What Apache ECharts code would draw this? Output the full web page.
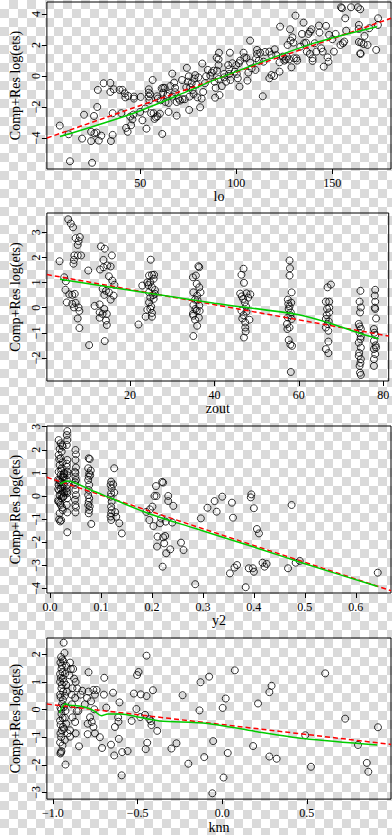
<!DOCTYPE html>
<html><head><meta charset="utf-8">
<script src="https://cdn.jsdelivr.net/npm/echarts@6/dist/echarts.min.js"></script>
<style>
html,body{margin:0;padding:0;width:392px;height:835px;overflow:hidden;
background:repeating-conic-gradient(#dadada 0 25%, #ffffff 0 50%) 0 0/18px 18px;}
#c{width:392px;height:835px;}
</style></head><body><div id="c"></div>
<script>
// ---------- data ----------
const yTitle = 'Comp+Res log(ets)';
const xTitles = ['lo', 'zout', 'y2', 'knn'];

const loTicks = [50, 100, 150];
const loYTicks = [-4, -2, 0, 2, 4];
const loPoints = [[8.2,-3.2],[12.8,-3.76],[13.5,-5.5],[25,-5.6],[19.8,-4.04],[20.8,-2.5],[24.5,-4.2],[24.5,-3.6],[26.2,-3.7],[27.3,-3.65],[28.5,-4.17],[29.8,-3.85],[26,-2.58],[27.7,-2.0],[28,-0.9],[31,-0.47],[34.5,-0.45],[34.5,-1.03],[34.8,-4.2],[35.7,-3.8],[35.7,-2.4],[36.3,-0.86],[39.3,-0.9],[40.8,-0.9],[40.2,-2.4],[42,-1.12],[42.3,-1.38],[42.7,-3.35],[43.5,-3.6],[43.8,-1.29],[44.8,-2.62],[45.3,-3.18],[46.5,-2.49],[46.8,-1.46],[46.8,-1.33],[46,-2.8],[50.3,-1.35],[51.2,-2.86],[50,-2.32],[52.7,-2.1],[53.3,-3.4],[54.5,-0.86],[54.5,-1.08],[54.5,-1.33],[54.8,-1.57],[55.2,-1.18],[55.7,-2.4],[56.5,-0.26],[57,-2.4],[57.5,-2.77],[58.2,-2.67],[59,-2.6],[60.3,-2.43],[58.8,-1.31],[59.2,-1.46],[60.7,-1.57],[61.5,-3.74],[61.2,-0.8],[62,-0.77],[62,-1.08],[62.8,-0.77],[63.2,-1.68],[64,-1.29],[64.3,-1.16],[64.8,-1.74],[64.8,-2.32],[65.7,-0.65],[66.8,-1.33],[66.7,0.15],[67.7,-0.43],[68.2,-0.77],[68.2,-1.05],[69,-2.56],[69,-1.68],[70,-1.46],[70.7,-1.59],[71.8,-0.26],[72,-1.5],[73.2,-1.5],[74,-0.73],[74.3,0.52],[75.3,-0.02],[74.8,-0.37],[75.7,-1.33],[75.5,-2.19],[76,-0.73],[76.8,-0.47],[77.3,-0.9],[77.8,-1.16],[78.2,-0.17],[78.7,0.06],[79.3,-0.56],[79.8,-1.38],[80.3,-0.09],[81.2,-2.02],[82,-1.46],[82.3,0.8],[82.8,-1.03],[83.7,-0.47],[84.3,-0.02],[85.2,0.39],[86.5,0.02],[87.3,0.22],[88.2,0.34],[88.7,-0.37],[89.3,-0.77],[89,-1.4],[89.8,1.18],[91,1.5],
[96.7,1.5],[90.8,1.07],[90.8,0.7],[90,0.34],[90.8,-0.2],[91.3,-1.23],[92.5,-0.65],[93.7,0.13],[93.7,-0.09],[94.7,-0.37],[95.8,0.7],[96.3,0.43],[96.3,0.13],[97,-0.26],[98,0.82],[99.2,0.28],[100,0.7],[100.3,0.13],[100.8,-0.15],[101.3,0.82],[101.7,-0.69],[102,0.99],[103.8,1.5],[104.2,1.2],[105.3,1.16],[105.8,-0.3],[106.3,0.22],[107.2,2.28],[107.2,0.86],[108,0.49],[110,0.39],[110.3,1.14],[110.8,1.42],[110.8,1.68],[111.7,0.99],[112.5,1.5],[113.8,-1.31],[114.2,0.92],[115,1.55],[117.2,1.57],[117.2,-0.15],[118.3,1.35],[118.3,0.06],[120,1.72],[119.7,0],[120.8,1.35],[122.5,0.88],[122.5,0.28],[122.8,3.18],[124.2,1.25],[125,0.99],[125.8,1.07],[126.3,1.25],[126.7,2.0],[127.5,1.07],[128,3.01],[128.3,2.28],[128.7,0.56],[129.2,2.49],[129.7,2.15],[130,1.14],[130.8,3.89],[131.3,1.14],[131.7,0.99],[133.3,1.89],[134.2,2.71],[135,3.44],[135.3,2.11],[136.3,2.15],[136.7,1.57],[137.5,2.71],[138.3,2.86],[139.2,3.01],[138.3,1.42],[139.7,0.97],[139.7,1.14],[140.8,2.11],[141.7,1.57],[143,3.25],[143.3,2.8],[144.2,1.78],[145,1.57],[145.5,0.6],[146.7,3.23],[147.5,1.2],[148,0.92],[148.3,2.65],[150,2.37],[150.8,1.57],[151.7,2.71],[154.2,2.0],[154.5,4.43],[155,4.37],[155.5,2.11],[156.2,2.22],[156.7,3.72],[157.2,2.92],[159.7,4.43],[163.3,4.43],[164.5,4.3],[163.8,3.29],[163.7,3.03],[163.8,2.19],[165,2.15],[164.5,1.46],[164.7,1.42],[166.7,2.58],[166.3,2.06],[168.3,2.0],[169.2,3.08],[172.8,1.68],[173.8,3.72],[173.7,3.29]];
const loFit = [[1.5,-4.0],[180.5,3.72]];
const loSmooth = [[8.3,-3.91],[46.5,-2.4],[76.5,-0.9],[90,-0.19],[140,2.1],[173.3,3.18]];

const zoutTicks = [20, 40, 60, 80];
const zoutYTicks = [-2, -1, 0, 1, 2, 3];
const zoutPoints = [[3.3,1.85],[5.35,3.52],[5.96,3.35],[6.5,3.2],[7.1,2.77],[8.1,2.81],[7.8,2.65],[7.6,2.5],[6.8,2.08],[7.6,2.08],[8.4,2.08],[6.7,1.9],[6.6,1.75],[4.4,1.21],[4.8,1.05],[4.7,0.71],[5.6,0.53],[5.0,0.21],[6.3,0.51],[6.9,0.55],[6.3,0.15],[6.7,0.01],[7.1,0.19],[7.8,0.01],[8.0,-0.13],[7.6,-0.43],[8.0,-0.81],[10.1,1.48],[10.3,-1.49],[13.1,2.44],[14.0,2.35],[15.7,2.08],[13.7,1.9],[14.6,1.68],[15.4,1.64],[12.9,1.52],[13.7,1.61],[15.0,1.25],[15.8,1.08],[16.3,0.91],[13.5,0.75],[14.3,0.67],[13.9,0.51],[15.0,0.61],[16.1,0.48],[15.4,0.32],[11.6,0.07],[12.8,0.13],[13.9,-0.05],[12.8,-0.19],[12.8,-0.4],[13.5,-0.25],[14.5,-0.69],[14.3,-0.51],[14.5,-0.25],[14.0,-1.33],
[22.9,0.88],[22.0,-0.67],[24.9,1.91],[24.5,1.28],[25.2,1.31],[25.7,1.31],[24.1,1.01],[24.8,1.01],[25.6,1.15],[25.2,0.81],[24.5,0.61],[25.9,0.55],[24.8,0.41],[25.6,0.35],[24.5,0.21],[24.8,-0.05],[25.2,-0.21],[24.1,-0.08],[23.7,-0.36],[25.2,-0.36],[25.9,0.7],[25.5,0.5],[24.3,0.9],[25.0,0.05],
[34.9,1.21],[36.2,1.65],[36.4,1.61],[35.6,1.28],[35.0,0.61],[35.8,0.95],[36.4,0.81],[36.7,0.61],[35.9,0.48],[35.4,0.32],[35.0,0.11],[36.4,0.08],[35.8,-0.12],[36.5,-0.13],[35.0,-0.32],[35.4,-0.48],[35.9,-0.72],[35.0,-1.13],[34.9,-0.25],[36.0,0.3],[35.5,-0.05],[36.3,-0.4],
[46.9,1.55],[46.4,1.31],[47.0,0.99],[46.1,0.56],[47.6,0.57],[48.5,0.53],[46.8,0.35],[47.2,0.21],[46.4,-0.12],[47.6,-0.16],[46.6,-0.43],[48.3,-0.48],[47.3,-0.59],[47.3,-0.79],[47.0,-1.19],[46.5,0.45],[47.5,0.05],[46.9,-0.3],[47.4,-0.95],[48.0,0.4],
[57.8,1.88],[57.9,1.57],[57.8,1.28],[58.3,0.61],[57.4,0.32],[57.8,0.05],[57.6,-0.05],[58.1,-0.19],[57.4,-0.39],[58.3,-0.45],[57.2,-0.65],[57.8,-0.79],[57.6,-1.29],[58.4,-1.52],[58.0,-1.47],[58.1,-2.56],[57.5,0.15],[58.0,-0.3],[57.3,-0.85],[58.2,0.2],
[66.8,0.81],[67.6,0.92],[66.4,0.24],[67.2,0.24],[66.7,-0.05],[67.2,-0.19],[66.4,-0.45],[66.8,-0.65],[66.4,-0.79],[67.0,-0.92],[67.0,-1.35],[66.4,-1.65],[67.0,-1.81],[67.2,0.0],[66.6,-0.3],[67.1,-0.55],
[74.6,0.67],[74.4,0.24],[74.7,0.01],[74.5,-0.19],[74.2,-0.65],[74.7,-0.85],[74.4,-1.01],[74.7,-1.15],[74.2,-1.39],[74.7,-1.59],[74.2,-1.92],[74.7,-2.05],[74.4,-2.32],[74.5,-2.59],[74.7,-2.68],[74.4,-0.75],[74.6,-1.25],[74.3,-1.8],[74.6,-2.2],
[78.1,0.71],[78.0,0.48],[78.1,0.24],[78.1,-0.05],[78.3,-0.43],[77.8,-0.85],[78.1,-1.09],[77.8,-1.32],[78.3,-1.59],[77.8,-1.65],[78.1,-1.85],[77.8,-2.05],[77.8,-2.32],[78.0,0.0],[78.2,-1.5],[77.9,-1.0]];
const zoutFit = [[0.3,1.32],[81.3,-1.13]];
const zoutSmooth = [[3.4,1.13],[40,0.18],[60,-0.28],[67,-0.6],[75,-1.05],[78.9,-1.24]];

const y2Ticks = [0.0, 0.1, 0.2, 0.3, 0.4, 0.5, 0.6];
const y2YTicks = [-4, -3, -2, -1, 0, 1, 2, 3];
const y2Points = [[0.017,2.42],[0.021,2.28],[0.025,2.14],[0.019,2.04],[0.023,1.92],[0.017,1.78],[0.021,1.63],[0.025,1.46],[0.019,1.34],[0.023,1.2],[0.017,1.05],[0.021,0.91],[0.025,0.79],[0.019,0.69],[0.023,0.59],[0.017,0.48],[0.021,0.33],[0.025,0.19],[0.019,0.04],[0.023,-0.1],[0.017,-0.25],[0.021,-0.39],[0.025,-0.61],[0.019,-0.75],[0.018,-1.01],[0.02,-1.1],[0.024,2.2],[0.018,1.6],[0.022,1.1],[0.026,0.85],[0.02,0.6],[0.024,0.4],[0.018,0.25],[0.022,0.1],[0.026,-0.05],[0.02,-0.3],[0.024,-0.5],[0.027,0.95],[0.016,0.7],[0.027,0.5],[0.016,0.3],[0.027,0.0],[0.016,-0.2],[0.022,-1.05],[0.028,1.0],[0.028,0.8],[0.028,0.15],
[0.034,2.81],[0.033,2.64],[0.034,2.42],[0.033,2.21],[0.034,1.56],[0.033,1.27],[0.034,1.05],[0.033,0.69],[0.034,0.48],[0.033,0.33],[0.034,0.12],[0.033,-0.39],[0.034,-0.71],[0.034,-1.57],[0.034,0.9],[0.033,0.2],[0.034,-0.1],[0.033,1.4],
[0.05,1.99],[0.051,1.8],[0.05,1.56],[0.051,1.23],[0.049,1.05],[0.05,0.84],[0.051,0.69],[0.049,0.48],[0.05,0.26],[0.051,0.04],[0.049,-0.17],[0.05,-0.39],[0.05,-0.71],[0.05,1.0],[0.049,0.6],[0.051,-0.5],
[0.076,1.63],[0.075,1.2],[0.077,0.98],[0.076,0.84],[0.075,0.69],[0.077,0.48],[0.076,0.26],[0.075,0.04],[0.077,-0.1],[0.076,-0.25],[0.075,-0.39],[0.077,-0.61],[0.076,-0.75],[0.078,1.6],[0.079,0.9],[0.078,-0.45],[0.081,-1.21],[0.08,1.1],
[0.126,1.2],[0.12,0.62],[0.119,0.48],[0.121,0.33],[0.12,0.12],[0.119,-0.03],[0.121,-0.25],[0.12,-0.46],[0.121,-0.61],[0.12,-0.75],[0.119,-0.89],[0.12,-1.04],[0.126,0.15],[0.124,0.5],[0.128,-0.7],[0.13,-0.9],[0.136,-1.18],[0.141,-1.62],
[0.189,-0.69],[0.195,-1.04],[0.196,-0.58],[0.201,-0.46],[0.203,-1.3],[0.205,0],[0.208,0.43],[0.209,0],[0.211,-1.76],[0.21,-2.19],[0.216,-1.18],[0.218,-0.97],[0.22,0.61],[0.222,0.58],[0.221,-3.06],[0.222,-1.79],[0.224,-2.05],[0.226,-1.73],[0.227,-1.11],[0.228,-2.48],[0.232,-0.22],[0.232,0],[0.236,-2.31],[0.24,-1.15],[0.242,-0.43],[0.257,-2.02],[0.262,-2.34],[0.285,-3.82],[0.296,-0.97],[0.309,-0.51],[0.323,-0.22],[0.327,-0.68],[0.338,-0.03],[0.353,-3.35],[0.357,-0.29],[0.359,-0.94],[0.362,-3.1],[0.367,-2.99],[0.384,-3.95],[0.39,-3.13],[0.394,-0.06],[0.395,0.07],[0.398,-3.13],[0.4,-3.28],[0.4,-0.53],[0.406,-1.43],[0.41,-1.62],[0.417,-2.89],[0.421,-3.06],[0.425,-2.94],[0.467,-3.13],[0.474,-0.39],[0.482,-2.89],[0.49,-2.81],[0.643,-3.32]];
const y2Fit = [[-0.006,0.81],[0.669,-4.1]];
const y2Smooth = [[0.0197,0.52],[0.034,0.65],[0.08,0.26],[0.12,-0.1],[0.196,-0.78],[0.284,-1.4],[0.397,-2.19],[0.497,-2.91],[0.643,-3.92]];

const knnTicks = [-1.0, -0.5, 0.0, 0.5];
const knnYTicks = [-3, -2, -1, 0, 1, 2];
const knnPoints = [[-0.937,2.42],[-0.945,1.82],[-0.956,1.7],[-0.95,1.47],[-0.958,1.29],[-0.941,1.12],[-0.958,1.0],[-0.95,0.77],[-0.958,0.54],[-0.941,0.36],[-0.956,0.07],[-0.95,-0.16],[-0.958,-0.4],[-0.941,-0.63],[-0.956,-0.86],[-0.958,-1.19],[-0.95,-1.5],[-0.956,-1.59],[-0.926,-1.99],[-0.932,2.05],[-0.922,1.59],[-0.922,0.89],[-0.918,0.65],[-0.926,-0.05],[-0.922,-0.51],[-0.913,-0.86],
[-0.952,1.9],[-0.947,1.6],[-0.944,1.35],[-0.953,1.15],[-0.947,0.9],[-0.94,0.65],[-0.955,0.45],[-0.946,0.2],[-0.951,0.0],[-0.943,-0.3],[-0.955,-0.55],[-0.948,-0.75],[-0.952,-1.0],[-0.944,-1.3],[-0.953,-1.55],[-0.935,1.0],[-0.93,0.5],[-0.935,0.1],[-0.93,-0.3],[-0.935,-0.7],[-0.93,-1.1],[-0.938,1.75],[-0.928,1.3],
[-0.899,1.7],[-0.894,1.47],[-0.881,1.47],[-0.903,1.24],[-0.875,1.12],[-0.866,1.0],[-0.885,0.77],[-0.857,0.77],[-0.89,0.54],[-0.869,0.42],[-0.888,0.19],[-0.86,-0.05],[-0.885,-0.28],[-0.869,-0.45],[-0.899,-0.75],[-0.866,-0.86],[-0.899,-0.98],[-0.846,-1.33],[-0.85,-0.05],[-0.837,0.54],[-0.827,0.68],[-0.812,0.19],[-0.799,0.42],[-0.79,1.35],[-0.79,0.65],[-0.775,0.3],[-0.761,0.71],[-0.752,0.54],[-0.742,0.71],[-0.756,0.01],[-0.795,-0.51],[-0.781,-0.28],[-0.771,-0.45],[-0.761,-0.63],[-0.752,-0.86],[-0.795,-0.89],[-0.723,-1.0],[-0.71,-1.39],[-0.699,0.54],[-0.697,1.15],[-0.685,0.07],[-0.638,-1.66],[-0.645,0.61],[-0.634,-0.63],[-0.591,-1.54],[-0.559,-1.5],[-0.594,-2.38],[-0.657,-1.27],[-0.615,-0.28],[-0.607,0.26],[-0.613,-0.44],[-0.611,-1.06],
[-0.535,-0.41],[-0.522,0.58],[-0.507,0.02],[-0.503,1.25],[-0.494,1.36],[-0.484,-0.27],[-0.481,0.55],[-0.456,-0.19],[-0.447,1.95],[-0.447,0.49],[-0.443,-1.2],[-0.452,-1.43],[-0.43,-0.35],[-0.42,-0.42],[-0.418,-0.56],[-0.409,0.7],[-0.384,-0.77],[-0.3,-1.41],[-0.27,-1.22],[-0.234,0.52],[-0.2,-1.96],[-0.134,-0.03],[-0.128,0.99],[-0.106,-1.72],[-0.077,1.19],[-0.058,-3.03],[-0.053,-1.14],[0.003,0.06],[0.008,-2.46],[0.021,0.4],[0.033,-1.57],[0.075,1.42],[0.183,-1.32],[0.212,0.22],[0.279,0.63],[0.279,-1.7],[0.292,0.86],[0.322,-1.78],[0.491,-0.93],[0.525,-2.07],[0.609,1.31],[0.727,-0.33],[0.803,-1.28],[0.855,-1.93],[0.864,-2.25],[0.921,-0.64]];
const knnFit = [[-1.036,0.2],[0.998,-1.26]];
const knnSmooth = [[-0.962,-0.12],[-0.926,0.21],[-0.903,0.16],[-0.846,0.13],[-0.79,0.05],[-0.752,-0.07],[-0.714,-0.22],[-0.676,-0.16],[-0.6,-0.16],[-0.49,-0.28],[-0.371,-0.41],[-0.087,-0.5],[0.197,-0.79],[0.481,-1.05],[0.917,-1.28]];

// ---------- layout / styling ----------
const FONT = 'Liberation Serif';
const minus = s => String(s).replace('-', '\u2212');
const panels = [
  {top:2,   height:167, xMin:1.5,   xMax:180.5, yMin:-6.0,  yMax:4.77, xt:loTicks,   yt:loYTicks,   fx:v=>minus(v),           pts:loPoints,   fit:loFit,   sm:loSmooth},
  {top:213, height:168, xMin:0.3,   xMax:81.3,  yMin:-2.92, yMax:3.77, xt:zoutTicks, yt:zoutYTicks, fx:v=>minus(v),           pts:zoutPoints, fit:zoutFit, sm:zoutSmooth},
  {top:426, height:167, xMin:-0.006,xMax:0.669, yMin:-4.2,  yMax:3.03, xt:y2Ticks,   yt:y2YTicks,   fx:v=>minus((+v).toFixed(1)), pts:y2Points, fit:y2Fit, sm:y2Smooth},
  {top:638, height:167, xMin:-1.036,xMax:0.998, yMin:-3.24, yMax:2.59, xt:knnTicks,  yt:knnYTicks,  fx:v=>minus((+v).toFixed(1)), pts:knnPoints, fit:knnFit, sm:knnSmooth}
];

const grid = [], xAxis = [], yAxis = [], series = [];
panels.forEach((p, i) => {
  grid.push({left:33, top:p.top, width:358, height:p.height, show:true,
    borderColor:'#000', borderWidth:1, backgroundColor:'transparent'});
  xAxis.push({type:'value', gridIndex:i, min:p.xMin, max:p.xMax, position:'bottom',
    splitLine:{show:false}, axisLine:{show:false, onZero:false},
    axisTick:{show:true, inside:false, length:5, lineStyle:{color:'#000'}, customValues:p.xt},
    axisLabel:{customValues:p.xt, color:'#000', fontFamily:FONT, fontSize:12, margin:8, formatter:p.fx},
    name:xTitles[i], nameLocation:'middle', nameGap:18,
    nameTextStyle:{fontFamily:FONT, fontSize:14, color:'#000'}});
  yAxis.push({type:'value', gridIndex:i, min:p.yMin, max:p.yMax, position:'left',
    splitLine:{show:false}, axisLine:{show:false, onZero:false},
    axisTick:{show:true, inside:false, length:5, lineStyle:{color:'#000'}, customValues:p.yt},
    axisLabel:{customValues:p.yt, color:'#000', fontFamily:FONT, fontSize:12, margin:5, rotate:90, formatter:v=>minus(v)},
    name:yTitle, nameLocation:'middle', nameGap:15,
    nameTextStyle:{fontFamily:FONT, fontSize:14, color:'#000'}});
  series.push({type:'scatter', xAxisIndex:i, yAxisIndex:i, data:p.pts, symbol:'circle', symbolSize:7,
    itemStyle:{color:'rgba(0,0,0,0)', borderColor:'#000', borderWidth:1}, silent:true, z:2});
  series.push({type:'line', xAxisIndex:i, yAxisIndex:i, data:p.fit, symbol:'none',
    lineStyle:{color:'#ff0000', width:1.5, type:[5,3]}, silent:true, z:3});
  series.push({type:'line', xAxisIndex:i, yAxisIndex:i, data:p.sm, symbol:'none', smooth:0.3,
    lineStyle:{color:'#00cc00', width:1.5}, silent:true, z:4});
});

const chart = echarts.init(document.getElementById('c'), null, {renderer:'svg'});
chart.setOption({animation:false, backgroundColor:'transparent', grid, xAxis, yAxis, series});
</script></body></html>
